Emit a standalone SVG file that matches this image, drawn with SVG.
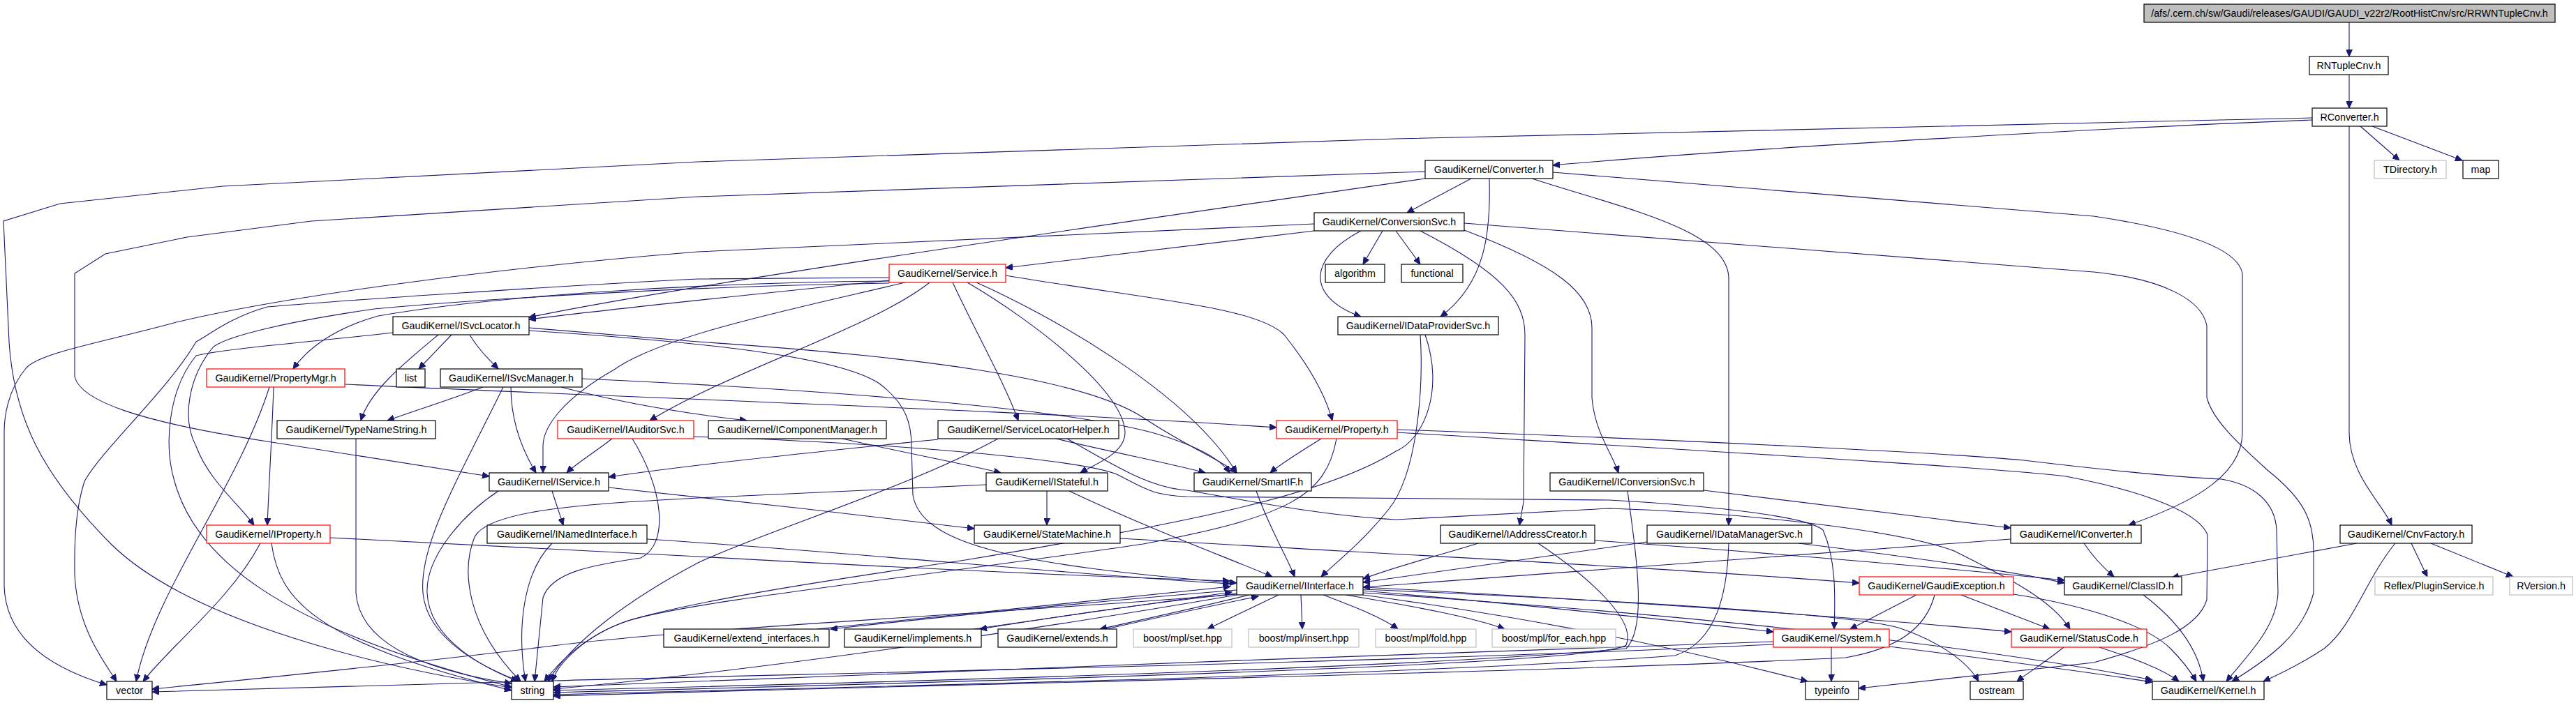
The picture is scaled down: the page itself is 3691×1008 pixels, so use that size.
<svg xmlns="http://www.w3.org/2000/svg" width="3691" height="1008" viewBox="0 0 3691 1008">
<defs>
<style>
.e path{fill:none;stroke:#191970;stroke-width:1.1;marker-end:url(#a)}
.n rect{fill:#fff;stroke:#000;stroke-width:1.2}
.n.r rect{stroke:#ff0000}
.n.g rect{stroke:#bfbfbf}
.n.t rect{fill:#bfbfbf}
.n text{font-family:"Liberation Sans",Arial,sans-serif;font-size:14.3px;text-anchor:middle;fill:#000}
</style>
<marker id="a" markerWidth="11" markerHeight="9" refX="10" refY="4.5" orient="auto" markerUnits="userSpaceOnUse"><path d="M0,0 L10,4.5 L0,9 z" fill="#191970" stroke="#191970" stroke-width="1"/></marker>
</defs>
<rect x="0" y="0" width="3691" height="1008" fill="#fff"/>
<g id="edges" class="e">
<path d="M3366,32 L3366,81"/>
<path d="M3366,107 L3366,155"/>
<path d="M3313,172 C3050,182 2500,212 2225,237"/>
<path d="M3382,181 L3438,230"/>
<path d="M3399,181 L3528,230"/>
<path d="M3366,181 L3366,620 C3366,680 3412,720 3427,753"/>
<path d="M3313,169 L2000,199 L1000,232 L319,267 L86,292 L5,317 L13,490 C20,600 60,680 159,780 C260,880 500,950 733,986"/>
<path d="M2108,256 L2016,305"/>
<path d="M2134,256 C2136,330 2130,405 2064,454"/>
<path d="M2195,256 C2330,300 2477,330 2477,400 L2477,753"/>
<path d="M2225,247 L3000,310 C3100,325 3205,350 3213,392 L3213,620 C3213,690 3120,728 3050,753"/>
<path d="M2042,256 C1600,320 1000,405 758,455"/>
<path d="M2042,246 L1000,282 L446,317 L268,340 L151,364 L107,392 L107,540 C115,575 200,605 383,633 L701,683"/>
<path d="M1883,331 L1441,384"/>
<path d="M1981,331 L1953,379"/>
<path d="M2000,331 L2035,379"/>
<path d="M1950,331 C1875,370 1870,425 1950,454"/>
<path d="M2035,331 C2150,390 2185,430 2185,480 L2183,720 L2177,753"/>
<path d="M2098,330 C2230,380 2281,420 2281,470 L2281,570 C2285,620 2310,650 2319,678"/>
<path d="M2098,320 L3000,390 C3100,400 3155,430 3162,467 L3162,570 C3170,600 3200,630 3250,675 C3300,715 3315,745 3315,790 L3315,850 C3300,910 3250,945 3198,977"/>
<path d="M1883,321 L1000,361 C700,385 395,427 249,463 C150,490 60,505 38,527 C10,560 6,600 6,620 L6,840 C8,920 80,960 153,982"/>
<path d="M1274,402 C1100,420 900,440 758,458"/>
<path d="M1274,398 L1000,400 C800,410 500,430 383,440 C330,455 300,480 281,490 C240,560 150,640 121,690 C105,740 107,800 107,823 C110,900 150,950 167,977"/>
<path d="M1274,403 C1000,405 700,425 542,453 C480,470 440,500 420,529"/>
<path d="M1274,406 C1000,410 700,428 536,443 C420,460 330,480 306,497 C270,540 260,600 281,640 C300,690 340,720 364,753"/>
<path d="M1297,405 C1150,440 950,480 880,530 C810,570 778,610 778,640 L778,678"/>
<path d="M1332,405 C1250,470 1050,530 931,603"/>
<path d="M1365,405 C1400,480 1440,550 1459,603"/>
<path d="M1386,405 C1480,460 1610,560 1612,620 C1612,650 1570,665 1548,678"/>
<path d="M1399,405 C1500,450 1700,560 1772,678"/>
<path d="M1441,395 C1650,430 1800,440 1840,480 C1880,530 1900,570 1909,603"/>
<path d="M647,480 L600,529"/>
<path d="M673,480 C685,500 700,515 714,529"/>
<path d="M628,480 C580,520 530,560 517,603"/>
<path d="M758,470 L1000,490 C1300,510 1550,540 1640,600 C1700,640 1750,660 1772,678"/>
<path d="M758,474 C1000,490 1200,510 1260,550 C1300,580 1306,610 1306,640 L1308,710 C1320,780 1450,810 1772,836"/>
<path d="M563,477 C450,490 320,500 281,510 C240,560 235,640 250,690 C280,800 400,900 733,985"/>
<path d="M2035,480 C2040,560 2030,680 1990,730 C1950,780 1910,810 1893,827"/>
<path d="M2042,480 C2070,560 2040,630 2000,647 C1900,710 1700,750 1383,803 C1200,830 1000,860 900,890 C840,910 800,950 780,977"/>
<path d="M392,555 C390,620 385,700 383,753"/>
<path d="M386,555 C340,700 220,850 195,977"/>
<path d="M494,551 C900,570 1500,590 1829,613"/>
<path d="M692,555 C640,575 590,590 555,603"/>
<path d="M732,555 C732,600 745,640 768,678"/>
<path d="M721,555 C660,680 600,780 606,850 C612,920 700,960 745,977"/>
<path d="M804,555 C900,580 1000,595 1070,603"/>
<path d="M834,543 C1100,555 1500,580 1650,620 C1720,640 1750,660 1762,678"/>
<path d="M510,629 L510,850 C515,920 600,960 733,980"/>
<path d="M877,629 C850,650 825,665 812,678"/>
<path d="M906,629 C950,700 960,780 918,800 C850,810 790,820 778,857 L766,977"/>
<path d="M994,626 C1300,636 1550,660 1600,680 C1640,700 1650,710 1700,712 L2306,717 C2450,725 2590,740 2612,760 C2630,800 2630,850 2628,902"/>
<path d="M1207,629 C1300,650 1380,665 1434,678"/>
<path d="M1344,630 C1200,645 1000,665 872,684"/>
<path d="M1513,629 C1600,650 1680,665 1727,678"/>
<path d="M1430,629 C1300,700 1100,760 1000,807 C900,860 820,920 785,977"/>
<path d="M1529,629 C1600,670 1650,700 1701,703 C1800,720 1900,740 2000,745 L2306,729 C2500,735 2720,760 2800,790 C2880,830 2940,860 2966,902"/>
<path d="M1893,629 C1860,650 1835,665 1820,678"/>
<path d="M1915,629 C1900,710 1850,740 1638,780 C1300,830 1000,860 900,890 C840,910 800,950 791,977"/>
<path d="M2002,616 C2400,630 2800,650 2900,660 C3000,672 3100,683 3183,687 C3230,695 3260,720 3262,760 L3264,850 C3262,900 3220,940 3190,977"/>
<path d="M2002,620 C2500,650 2850,670 2960,683 C3050,700 3150,730 3163,767 L3162,860 C3150,900 3090,925 3000,950 L2663,987"/>
<path d="M791,704 C796,720 803,740 807,753"/>
<path d="M872,699 C1000,712 1250,740 1396,758"/>
<path d="M714,704 C660,740 610,800 612,850 C615,920 700,960 742,977"/>
<path d="M1500,704 L1500,753"/>
<path d="M1532,704 C1650,760 1760,800 1823,827"/>
<path d="M1413,695 L1000,714 C850,722 700,730 680,770 C660,820 670,900 746,977"/>
<path d="M1800,704 C1820,760 1845,800 1855,827"/>
<path d="M2441,703 L2881,757"/>
<path d="M2332,704 C2345,800 2360,900 2330,930 C2000,960 1200,980 793,990"/>
<path d="M473,771 L1000,798 C1300,815 1600,828 1762,833"/>
<path d="M373,779 C330,860 250,920 205,977"/>
<path d="M389,779 C400,860 450,920 733,990"/>
<path d="M927,773 C1200,790 1550,825 1762,837"/>
<path d="M791,779 C750,820 740,900 753,977"/>
<path d="M1605,772 C2000,795 2400,815 2664,836"/>
<path d="M2118,779 C2050,800 2000,812 1953,830"/>
<path d="M2285,775 C2500,790 2800,815 2958,832"/>
<path d="M2204,779 C2280,830 2345,890 2330,925 C2300,945 1900,965 793,993"/>
<path d="M2360,777 C2200,800 2050,820 1953,835"/>
<path d="M2577,779 C2750,800 2900,822 2958,836"/>
<path d="M2477,779 C2475,850 2460,920 2400,940 C2000,970 1200,985 793,996"/>
<path d="M2881,773 C2500,800 2200,825 1953,842"/>
<path d="M2986,779 C3000,800 3015,815 3029,827"/>
<path d="M3377,779 L3112,828"/>
<path d="M3455,779 L3478,827"/>
<path d="M3483,779 L3601,827"/>
<path d="M3432,779 C3390,830 3370,900 3330,930 C3300,950 3270,965 3243,977"/>
<path d="M1772,846 C1500,868 1300,890 1190,902"/>
<path d="M1170,902 C1400,878 1600,856 1763,841"/>
<path d="M1772,851 C1600,870 1480,890 1404,902"/>
<path d="M1395,902 C1550,880 1680,862 1765,849"/>
<path d="M1790,853 C1700,875 1630,890 1576,902"/>
<path d="M1585,902 C1660,885 1740,868 1803,855"/>
<path d="M1832,853 L1730,902"/>
<path d="M1864,853 L1866,902"/>
<path d="M1896,853 C1940,870 1980,885 2003,902"/>
<path d="M1928,853 C2030,870 2110,885 2156,902"/>
<path d="M1953,847 C2200,868 2400,890 2541,906"/>
<path d="M1953,842 C2300,860 2700,888 2882,906"/>
<path d="M1953,850 C2400,880 2800,920 3084,975"/>
<path d="M1953,853 C2150,880 2350,915 2590,977"/>
<path d="M1953,845 C2300,860 2650,880 2720,900 C2780,920 2820,950 2835,977"/>
<path d="M1772,853 C1500,900 1100,960 793,988"/>
<path d="M1772,852 C1500,875 1000,900 800,925 C600,950 400,970 218,988"/>
<path d="M2746,853 L2651,902"/>
<path d="M2772,853 C2760,900 2720,930 2644,943 C2200,965 1200,985 793,998"/>
<path d="M2810,853 L2937,902"/>
<path d="M2885,852 C3000,870 3080,900 3110,930 C3130,950 3140,965 3147,977"/>
<path d="M2624,928 L2624,977"/>
<path d="M2541,920 C2000,940 1200,965 793,985"/>
<path d="M2541,924 C2000,950 1200,965 793,976 L218,992"/>
<path d="M2707,927 C2850,945 2980,962 3084,978"/>
<path d="M2957,928 C2930,950 2905,965 2890,977"/>
<path d="M3008,928 C3060,945 3100,960 3122,977"/>
<path d="M3071,853 C3120,890 3150,930 3157,977"/>
</g>
<g id="n_top" class="n t"><rect x="3072" y="6" width="589" height="26"/><text x="3366.5" y="24">/afs/.cern.ch/sw/Gaudi/releases/GAUDI/GAUDI_v22r2/RootHistCnv/src/RRWNTupleCnv.h</text></g>
<g id="n_RNTupleCnv" class="n"><rect x="3309" y="81" width="113" height="26"/><text x="3365.5" y="99">RNTupleCnv.h</text></g>
<g id="n_RConverter" class="n"><rect x="3313" y="155" width="107" height="26"/><text x="3366.5" y="173">RConverter.h</text></g>
<g id="n_Converter" class="n"><rect x="2042" y="230" width="183" height="26"/><text x="2133.5" y="248">GaudiKernel/Converter.h</text></g>
<g id="n_TDirectory" class="n g"><rect x="3402" y="230" width="103" height="26"/><text x="3453.5" y="248">TDirectory.h</text></g>
<g id="n_map" class="n"><rect x="3529" y="230" width="51" height="26"/><text x="3554.5" y="248">map</text></g>
<g id="n_ConversionSvc" class="n"><rect x="1883" y="305" width="215" height="26"/><text x="1990.5" y="323">GaudiKernel/ConversionSvc.h</text></g>
<g id="n_Service" class="n r"><rect x="1274" y="379" width="167" height="26"/><text x="1357.5" y="397">GaudiKernel/Service.h</text></g>
<g id="n_algorithm" class="n"><rect x="1899" y="379" width="85" height="26"/><text x="1941.5" y="397">algorithm</text></g>
<g id="n_functional" class="n"><rect x="2008" y="379" width="88" height="26"/><text x="2052" y="397">functional</text></g>
<g id="n_ISvcLocator" class="n"><rect x="563" y="454" width="195" height="26"/><text x="660.5" y="472">GaudiKernel/ISvcLocator.h</text></g>
<g id="n_IDataProviderSvc" class="n"><rect x="1917" y="454" width="230" height="26"/><text x="2032" y="472">GaudiKernel/IDataProviderSvc.h</text></g>
<g id="n_PropertyMgr" class="n r"><rect x="296" y="529" width="198" height="26"/><text x="395" y="547">GaudiKernel/PropertyMgr.h</text></g>
<g id="n_list" class="n"><rect x="568" y="529" width="41" height="26"/><text x="588.5" y="547">list</text></g>
<g id="n_ISvcManager" class="n"><rect x="631" y="529" width="203" height="26"/><text x="732.5" y="547">GaudiKernel/ISvcManager.h</text></g>
<g id="n_TypeNameString" class="n"><rect x="397" y="603" width="227" height="26"/><text x="510.5" y="621">GaudiKernel/TypeNameString.h</text></g>
<g id="n_IAuditorSvc" class="n r"><rect x="799" y="603" width="195" height="26"/><text x="896.5" y="621">GaudiKernel/IAuditorSvc.h</text></g>
<g id="n_IComponentManager" class="n"><rect x="1015" y="603" width="255" height="26"/><text x="1142.5" y="621">GaudiKernel/IComponentManager.h</text></g>
<g id="n_ServiceLocatorHelper" class="n"><rect x="1344" y="603" width="259" height="26"/><text x="1473.5" y="621">GaudiKernel/ServiceLocatorHelper.h</text></g>
<g id="n_Property" class="n r"><rect x="1829" y="603" width="173" height="26"/><text x="1915.5" y="621">GaudiKernel/Property.h</text></g>
<g id="n_IService" class="n"><rect x="701" y="678" width="171" height="26"/><text x="786.5" y="696">GaudiKernel/IService.h</text></g>
<g id="n_IStateful" class="n"><rect x="1413" y="678" width="174" height="26"/><text x="1500" y="696">GaudiKernel/IStateful.h</text></g>
<g id="n_SmartIF" class="n"><rect x="1711" y="678" width="168" height="26"/><text x="1795" y="696">GaudiKernel/SmartIF.h</text></g>
<g id="n_IConversionSvc" class="n"><rect x="2221" y="678" width="220" height="26"/><text x="2331" y="696">GaudiKernel/IConversionSvc.h</text></g>
<g id="n_IProperty" class="n r"><rect x="296" y="753" width="177" height="26"/><text x="384.5" y="771">GaudiKernel/IProperty.h</text></g>
<g id="n_INamedInterface" class="n"><rect x="698" y="753" width="229" height="26"/><text x="812.5" y="771">GaudiKernel/INamedInterface.h</text></g>
<g id="n_StateMachine" class="n"><rect x="1396" y="753" width="209" height="26"/><text x="1500.5" y="771">GaudiKernel/StateMachine.h</text></g>
<g id="n_IAddressCreator" class="n"><rect x="2064" y="753" width="221" height="26"/><text x="2174.5" y="771">GaudiKernel/IAddressCreator.h</text></g>
<g id="n_IDataManagerSvc" class="n"><rect x="2360" y="753" width="236" height="26"/><text x="2478" y="771">GaudiKernel/IDataManagerSvc.h</text></g>
<g id="n_IConverter" class="n"><rect x="2881" y="753" width="187" height="26"/><text x="2974.5" y="771">GaudiKernel/IConverter.h</text></g>
<g id="n_CnvFactory" class="n"><rect x="3353" y="753" width="189" height="26"/><text x="3447.5" y="771">GaudiKernel/CnvFactory.h</text></g>
<g id="n_IInterface" class="n"><rect x="1772" y="827" width="181" height="26"/><text x="1862.5" y="845">GaudiKernel/IInterface.h</text></g>
<g id="n_GaudiException" class="n r"><rect x="2664" y="827" width="221" height="26"/><text x="2774.5" y="845">GaudiKernel/GaudiException.h</text></g>
<g id="n_ClassID" class="n"><rect x="2958" y="827" width="168" height="26"/><text x="3042" y="845">GaudiKernel/ClassID.h</text></g>
<g id="n_PluginService" class="n g"><rect x="3403" y="827" width="169" height="26"/><text x="3487.5" y="845">Reflex/PluginService.h</text></g>
<g id="n_RVersion" class="n g"><rect x="3596" y="827" width="90" height="26"/><text x="3641" y="845">RVersion.h</text></g>
<g id="n_extend_interfaces" class="n"><rect x="951" y="902" width="237" height="26"/><text x="1069.5" y="920">GaudiKernel/extend_interfaces.h</text></g>
<g id="n_implements" class="n"><rect x="1210" y="902" width="196" height="26"/><text x="1308" y="920">GaudiKernel/implements.h</text></g>
<g id="n_extends" class="n"><rect x="1430" y="902" width="170" height="26"/><text x="1515" y="920">GaudiKernel/extends.h</text></g>
<g id="n_set" class="n g"><rect x="1624" y="902" width="141" height="26"/><text x="1694.5" y="920">boost/mpl/set.hpp</text></g>
<g id="n_insert" class="n g"><rect x="1789" y="902" width="158" height="26"/><text x="1868" y="920">boost/mpl/insert.hpp</text></g>
<g id="n_fold" class="n g"><rect x="1971" y="902" width="144" height="26"/><text x="2043" y="920">boost/mpl/fold.hpp</text></g>
<g id="n_for_each" class="n g"><rect x="2138" y="902" width="177" height="26"/><text x="2226.5" y="920">boost/mpl/for_each.hpp</text></g>
<g id="n_System" class="n r"><rect x="2541" y="902" width="166" height="26"/><text x="2624" y="920">GaudiKernel/System.h</text></g>
<g id="n_StatusCode" class="n r"><rect x="2882" y="902" width="194" height="26"/><text x="2979" y="920">GaudiKernel/StatusCode.h</text></g>
<g id="n_vector" class="n"><rect x="153" y="977" width="65" height="26"/><text x="185.5" y="995">vector</text></g>
<g id="n_string" class="n"><rect x="733" y="977" width="60" height="26"/><text x="763" y="995">string</text></g>
<g id="n_typeinfo" class="n"><rect x="2587" y="977" width="76" height="26"/><text x="2625" y="995">typeinfo</text></g>
<g id="n_ostream" class="n"><rect x="2823" y="977" width="76" height="26"/><text x="2861" y="995">ostream</text></g>
<g id="n_Kernel" class="n"><rect x="3084" y="977" width="160" height="26"/><text x="3164" y="995">GaudiKernel/Kernel.h</text></g>
</svg>
